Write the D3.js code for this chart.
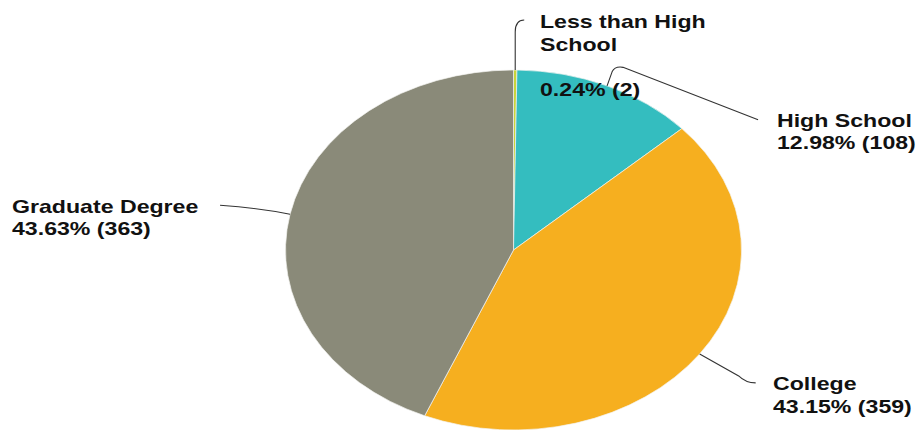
<!DOCTYPE html>
<html>
<head>
<meta charset="utf-8">
<script src="https://cdn.jsdelivr.net/npm/d3@7/dist/d3.min.js"></script>
<style>
  html, body { margin: 0; padding: 0; background: #fff; }
  svg { display: block; }
  text { font-family: "Liberation Sans", Arial, sans-serif; font-weight: bold; fill: #111; }
</style>
</head>
<body>
<svg id="chart" width="921" height="430"></svg>
<script>
// ---- data ----
const categories = ["Less than High School", "High School", "College", "Graduate Degree"];
const counts = [2, 108, 359, 363];
const colors = ["#c9d43a", "#34bdbf", "#f6af1f", "#8a8a79"];

// ---- layout ----
const W = 921, H = 430;
const cx = 513.5, cy = 250;
const ry = 180, rx = 228;
const sx = rx / ry;
const fontSize = 18.5;
const textScale = 1.25;
const lineH = 22.5;

const svg = d3.select("#chart");
const total = d3.sum(counts);
const data = categories.map((c, i) => ({ name: c, value: counts[i], color: colors[i], pct: counts[i] / total * 100 }));

const pie = d3.pie().value(d => d.value).sort(null);
const arcs = pie(data);
const arc = d3.arc().innerRadius(0).outerRadius(ry);

const g = svg.append("g").attr("transform", `translate(${cx},${cy}) scale(${sx},1)`);
g.selectAll("path").data(arcs).enter().append("path")
  .attr("d", arc)
  .attr("fill", d => d.data.color)
  .attr("stroke", "#f4f4f0")
  .attr("stroke-width", 0.7)
  .attr("vector-effect", "non-scaling-stroke");

function edge(a) { return [cx + rx * Math.sin(a), cy - ry * Math.cos(a)]; }
const mids = arcs.map(a => edge((a.startAngle + a.endAngle) / 2));

// leader lines (shapes relative to slice mid-point anchors)
const lp = d3.path;
function leader(i) {
  const [x, y] = mids[i];
  const p = lp();
  p.moveTo(x, y);
  if (i === 0) {
    p.lineTo(x, y - 38);
    p.quadraticCurveTo(x, y - 50, x + 9, y - 50);
  } else if (i === 1) {
    p.lineTo(x + 5, y - 14);
    p.quadraticCurveTo(x + 8, y - 20, x + 16, y - 18.5);
    p.lineTo(x + 151, y + 34);
  } else if (i === 2) {
    p.lineTo(x + 39, y + 22);
    p.quadraticCurveTo(x + 46, y + 29, x + 56, y + 29);
  } else {
    p.quadraticCurveTo(x - 30, y - 6, x - 70, y - 9);
  }
  return p.toString();
}
svg.append("g").selectAll("path").data(data).enter().append("path")
  .attr("d", (d, i) => leader(i))
  .attr("fill", "none")
  .attr("stroke", "#333")
  .attr("stroke-width", 1.1);

// labels
const fmt = d => d.pct.toFixed(2) + "% (" + d.value + ")";
const labelDefs = [
  { x: 540, y: 28, lines: ["Less than High", "School", "", fmt(data[0])] },
  { x: 777, y: 126.5, lines: [data[1].name, fmt(data[1])] },
  { x: 773, y: 390, lines: [data[2].name, fmt(data[2])] },
  { x: 12, y: 212.5, lines: [data[3].name, fmt(data[3])] }
];
labelDefs.forEach(L => {
  L.lines.forEach((t, k) => {
    if (!t) return;
    svg.append("text")
      .attr("transform", `translate(${L.x},${L.y + k * lineH}) scale(${textScale},1)`)
      .attr("font-size", fontSize)
      .text(t);
  });
});
</script>
</body>
</html>
